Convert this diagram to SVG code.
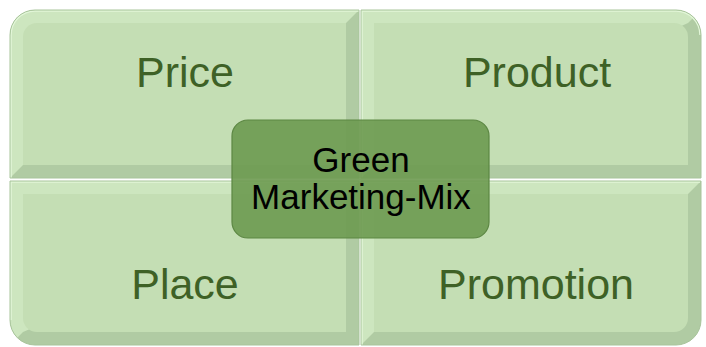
<svg xmlns="http://www.w3.org/2000/svg" width="706" height="347" viewBox="0 0 706 347">
<style>
.dark{fill:#b0cba3}
.light{fill:#cde6bf}
.face{fill:#c4deb4}
.edge{fill:none;stroke:#a8c49b;stroke-width:1}
.hl{fill:none;stroke:#e2f6d8;stroke-width:1.5}
.lbl{font-family:"Liberation Sans",Arial,sans-serif;font-size:43px;fill:#3e6126;text-anchor:middle}
.ctr{font-family:"Liberation Sans",Arial,sans-serif;font-size:35px;fill:#000;text-anchor:middle}
</style>
<defs>
<clipPath id="cTL"><path d="M10,178 V35 A25,25 0 0 1 35,10 H359 V178 Z"/></clipPath>
<clipPath id="cTR"><path d="M361,10 H676 A25,25 0 0 1 701,35 V178 H361 Z"/></clipPath>
<clipPath id="cBL"><path d="M10,181 H359 V345 H35 A25,25 0 0 1 10,320 Z"/></clipPath>
<clipPath id="cBR"><path d="M361,181 H701 V320 A25,25 0 0 1 676,345 H361 Z"/></clipPath>
</defs>
<rect width="706" height="347" fill="#ffffff"/>
<g id="price">
<g clip-path="url(#cTL)">
<rect x="0" y="0" width="370" height="190" class="dark"/>
<polygon points="0,0 370,0 359,10 346,23 23,165 10,178 0,190" class="light"/>
<path d="M23,165 V37 A14,14 0 0 1 37,23 H346 V165 Z" class="face"/>
<path d="M11,178 V35 A24,24 0 0 1 35,11 H359" class="hl"/>
</g>
<path d="M10,178 V35 A25,25 0 0 1 35,10 H359 V178 Z" class="edge"/>
<text x="185" y="87" class="lbl">Price</text>
</g>
<g id="product">
<g clip-path="url(#cTR)">
<rect x="350" y="0" width="360" height="190" class="dark"/>
<polygon points="350,0 720,0 701,10 688,23 374,165 361,178 350,190" class="light"/>
<path d="M374,23 H674 A14,14 0 0 1 688,37 V165 H374 Z" class="face"/>
<path d="M362,178 V11 H676 A24,24 0 0 1 700,35" class="hl"/>
</g>
<path d="M361,10 H676 A25,25 0 0 1 701,35 V178 H361 Z" class="edge"/>
<text x="537" y="87" class="lbl">Product</text>
</g>
<g id="place">
<g clip-path="url(#cBL)">
<rect x="0" y="170" width="370" height="190" class="dark"/>
<polygon points="0,170 370,170 359,181 346,194 23,332 10,345 0,355" class="light"/>
<path d="M23,194 H346 V332 H37 A14,14 0 0 1 23,318 Z" class="face"/>
<path d="M11,320 V182 H359" class="hl"/>
</g>
<path d="M10,181 H359 V345 H35 A25,25 0 0 1 10,320 Z" class="edge"/>
<text x="185" y="299" class="lbl">Place</text>
</g>
<g id="promotion">
<g clip-path="url(#cBR)">
<rect x="350" y="170" width="360" height="190" class="dark"/>
<polygon points="350,170 712,170 701,181 688,194 374,332 361,345 350,355" class="light"/>
<path d="M374,194 H688 V318 A14,14 0 0 1 674,332 H374 Z" class="face"/>
<path d="M362,345 V182 H700" class="hl"/>
</g>
<path d="M361,181 H701 V320 A25,25 0 0 1 676,345 H361 Z" class="edge"/>
<text x="536" y="299" class="lbl">Promotion</text>
</g>
<g id="green-marketing-mix">
<rect x="232" y="120" width="257" height="118" rx="16" ry="16" fill="#6d9a50" fill-opacity="0.9" stroke="#5c8743" stroke-width="1.2"/>
<text x="361" y="172" class="ctr">Green</text>
<text x="361" y="209" class="ctr">Marketing-Mix</text>
</g>
<g id="connectors"/>
</svg>
